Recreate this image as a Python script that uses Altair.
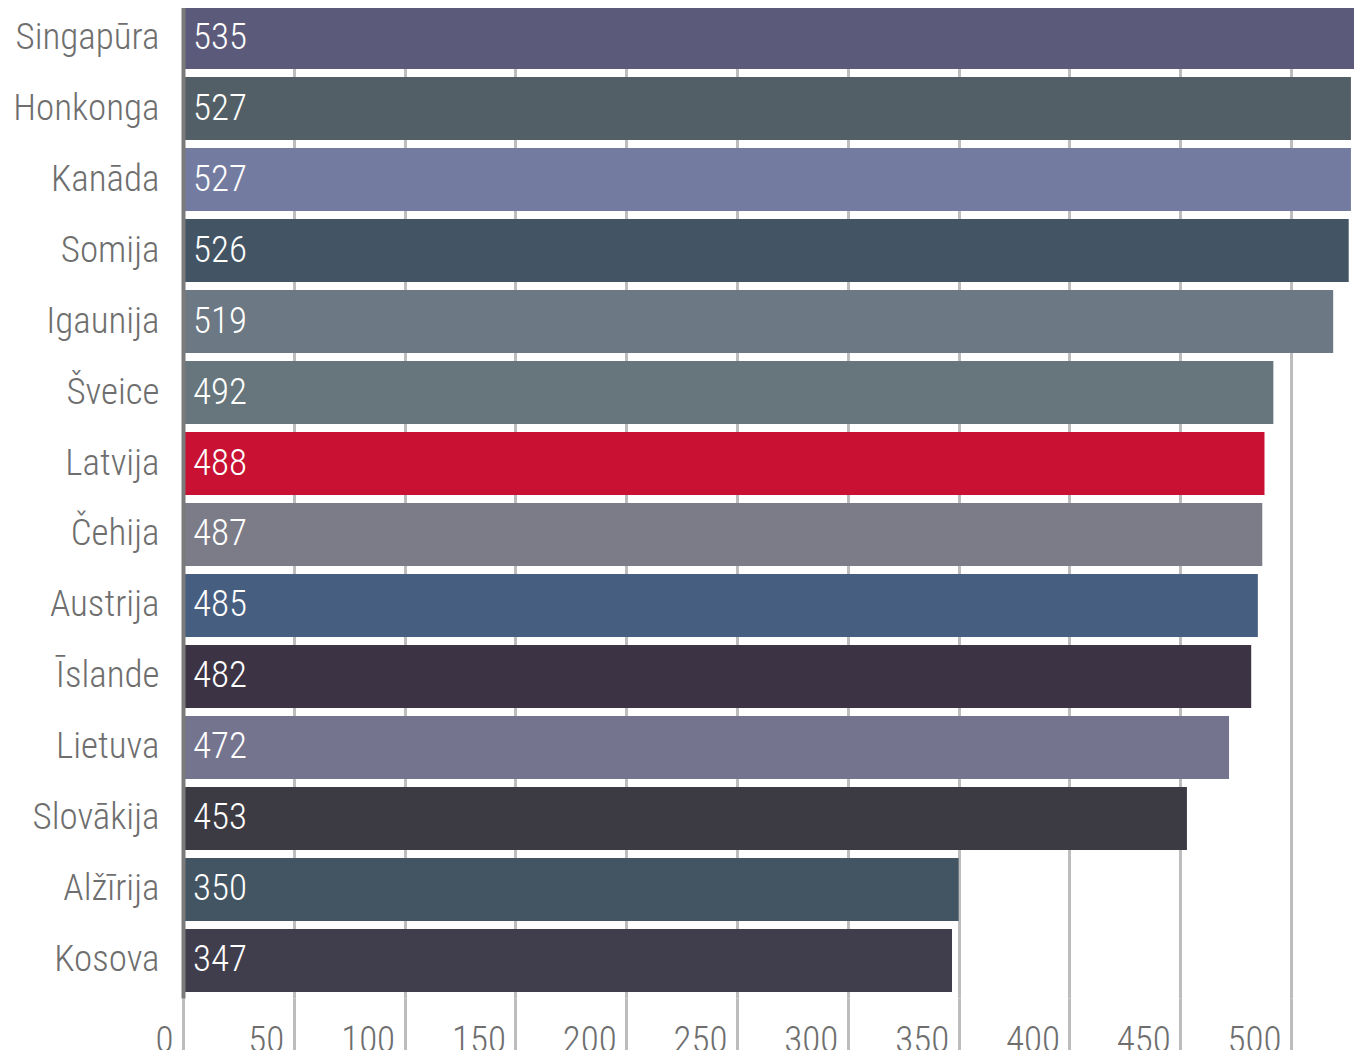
import altair as alt
import pandas as pd

countries = ["Singapūra", "Honkonga", "Kanāda", "Somija", "Igaunija", "Šveice", "Latvija",
             "Čehija", "Austrija", "Īslande", "Lietuva", "Slovākija", "Alžīrija", "Kosova"]
values = [535, 527, 527, 526, 519, 492, 488, 487, 485, 482, 472, 453, 350, 347]
colors = ["#5c5a7a", "#535f66", "#737ca0", "#435564", "#6c7883", "#66767c", "#c81133",
          "#7c7b88", "#465e80", "#3c3345", "#75748f", "#3c3a42", "#435562", "#403d4c"]
x_ticks = [0, 50, 100, 150, 200, 250, 300, 350, 400, 450, 500]

df = pd.DataFrame({"country": countries, "value": values})

FONT = ("'Liberation Sans Narrow', 'Arial Narrow', 'Roboto Condensed', 'Noto Sans Condensed', "
        "'Open Sans Condensed', 'DejaVu Sans Condensed', Roboto, sans-serif")

y_enc = alt.Y("country:N", sort=countries,
              scale=alt.Scale(paddingInner=0.113, paddingOuter=0.085),
              axis=alt.Axis(title=None, ticks=False, labelPadding=24, labelFontSize=37,
                            labelFontWeight=300,
                            labelColor="#6e6e6e", labelFont=FONT, domain=True,
                            domainColor="#7a7a7a", domainWidth=4, zindex=1, grid=False))

x_enc = alt.X("value:Q",
              scale=alt.Scale(domain=[0, 532], nice=False, zero=True),
              axis=alt.Axis(title=None, values=x_ticks, grid=True, gridColor="#bdbdbd",
                            gridWidth=3, ticks=True, tickColor="#bdbdbd", tickWidth=3,
                            tickSize=70, labelPadding=-46, labelBaseline="top",
                            labelAlign="right", labelOffset=-10, labelFontSize=37,
                            labelFontWeight=300,
                            labelColor="#6e6e6e", labelFont=FONT, domain=False,
                            labelOverlap=False, labelFlush=False, labelBound=False, zindex=0))

bars = alt.Chart(df).mark_bar(clip=True).encode(
    x=x_enc,
    y=y_enc,
    color=alt.Color("country:N", scale=alt.Scale(domain=countries, range=colors), legend=None),
)

labels = alt.Chart(df).mark_text(align="left", baseline="middle", dx=10, fontSize=37,
                                 fontWeight=300, color="white", font=FONT).encode(
    x=alt.datum(0),
    y=alt.Y("country:N", sort=countries),
    text=alt.Text("value:Q"),
)

chart = (bars + labels).properties(
    width=1179, height=998,
    autosize=alt.AutoSizeParams(type="none"),
    padding={"left": 175, "top": -8, "right": -8, "bottom": 70},
).configure_view(stroke=None)

chart.save("out.html", embed_options={"renderer": "svg", "actions": False})
